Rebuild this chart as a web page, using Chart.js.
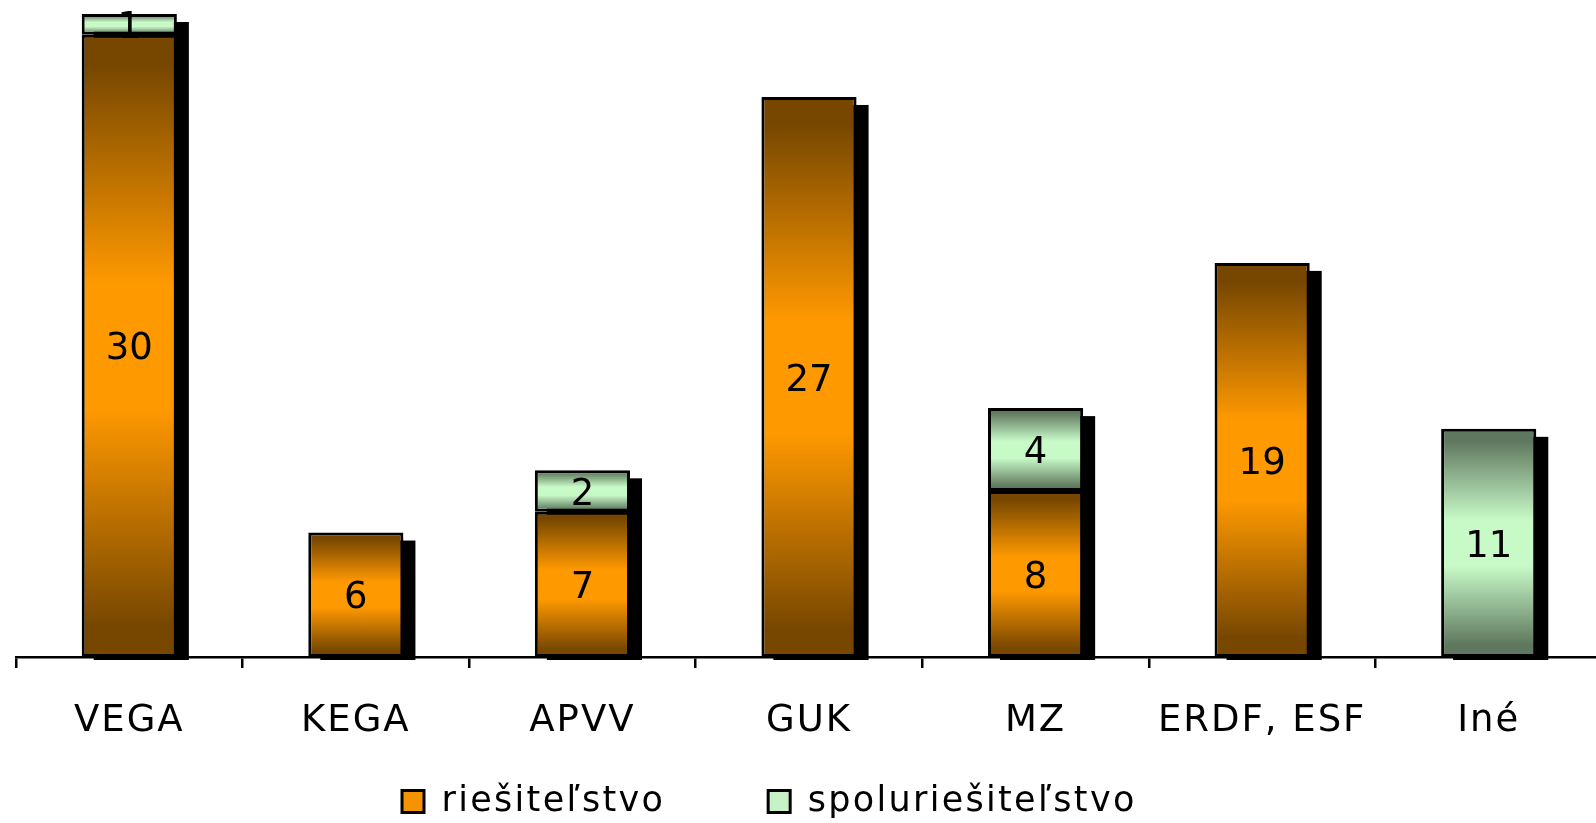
<!DOCTYPE html>
<html>
<head>
<meta charset="utf-8">
<script src="https://cdn.jsdelivr.net/npm/chart.js@4/dist/chart.umd.min.js"></script>
<style>
  html, body { margin: 0; padding: 0; background: #fff; overflow: hidden; }
  #wrap { width: 1602px; height: 823px; }
</style>
</head>
<body>
<div id="wrap"><canvas id="c" width="1602" height="823"></canvas></div>
<script>
const categories = ['VEGA', 'KEGA', 'APVV', 'GUK', 'MZ', 'ERDF, ESF', 'Iné'];
const riesitelstvo = [30, 6, 7, 27, 8, 19, 0];
const spoluriesitelstvo = [1, 0, 2, 0, 4, 0, 11];
const seriesNames = ['riešiteľstvo', 'spoluriešiteľstvo'];

const FONT = 'DejaVu Sans';
const TICK_SP = '2px';
const LEGEND_SP = '2.3px';
const ORANGE = ['#774700', '#ff9900'];
const GREEN = ['#5e775e', '#c8fac8'];

function segGradient(sctx, stops) {
  const chart = sctx.chart;
  if (sctx.type !== 'data' || !chart.scales || !chart.scales.y) return stops[1];
  const i = sctx.dataIndex, d = sctx.datasetIndex;
  let start = 0;
  for (let k = 0; k < d; k++) start += chart.data.datasets[k].data[i] || 0;
  const v = chart.data.datasets[d].data[i] || 0;
  const y = chart.scales.y;
  const yTop = y.getPixelForValue(start + v), yBot = y.getPixelForValue(start);
  if (!isFinite(yTop) || !isFinite(yBot) || yTop === yBot) return stops[1];
  const g = chart.ctx.createLinearGradient(0, yTop, 0, yBot);
  g.addColorStop(0, stops[0]);
  g.addColorStop(0.05, stops[0]);
  g.addColorStop(0.4, stops[1]);
  g.addColorStop(0.6, stops[1]);
  g.addColorStop(0.95, stops[0]);
  g.addColorStop(1, stops[0]);
  return g;
}

function withSpacing(ctx, sp, fn) {
  const prev = ctx.letterSpacing;
  ctx.letterSpacing = sp;
  try { return fn(); } finally { ctx.letterSpacing = prev; }
}

const spacingPlugin = {
  id: 'spacing',
  afterInit(chart) {
    const lg = chart.legend;
    if (lg) {
      const od = lg.draw, of = lg.fit;
      lg.draw = function (...a) { return withSpacing(chart.ctx, LEGEND_SP, () => od.apply(lg, a)); };
      lg.fit = function (...a) { return withSpacing(chart.ctx, LEGEND_SP, () => of.apply(lg, a)); };
    }
  },
  beforeUpdate(chart) { chart.ctx.letterSpacing = TICK_SP; },
  beforeLayout(chart) { chart.ctx.letterSpacing = TICK_SP; },
  beforeDraw(chart) { chart.ctx.letterSpacing = TICK_SP; }
};

const shadowPlugin = {
  id: 'shadow',
  beforeDatasetsDraw(chart) {
    const c = chart.ctx;
    const base = chart.scales.y.getPixelForValue(0);
    c.save();
    c.fillStyle = '#000';
    categories.forEach((_, i) => {
      let top = Infinity, x = null, w = null;
      chart.data.datasets.forEach((ds, d) => {
        const el = chart.getDatasetMeta(d).data[i];
        if (!el || !ds.data[i]) return;
        top = Math.min(top, el.y);
        x = el.x; w = el.width;
      });
      if (x === null) return;
      c.fillRect(x - w / 2 + 12, top + 8, w, base + 3 - top - 8);
    });
    c.restore();
  }
};

const labelPlugin = {
  id: 'segLabels',
  afterDatasetsDraw(chart) {
    const c = chart.ctx;
    c.save();
    c.letterSpacing = '0px';
    c.font = '37px "' + FONT + '"';
    c.fillStyle = '#000';
    c.textAlign = 'center';
    c.textBaseline = 'middle';
    chart.data.datasets.forEach((ds, d) => {
      chart.getDatasetMeta(d).data.forEach((el, i) => {
        const v = ds.data[i];
        if (!v) return;
        c.fillText(String(v), el.x, (el.y + el.base) / 2 + 4);
      });
    });
    c.restore();
  }
};

const layoutFix = {
  id: 'layoutFix',
  afterLayout(chart) {
    const lg = chart.legend;
    if (lg && lg.lineWidths) {
      const p = lg.options.labels.padding;
      const start = (lg.left + p + lg.right - lg.lineWidths[0]) / 2;
      const delta = 402 - start;
      lg.left += delta; lg.right += delta;
    }
    const x = chart.scales.x;
    if (x) x.bottom = chart.height;
  }
};

new Chart(document.getElementById('c'), {
  type: 'bar',
  data: {
    labels: categories,
    datasets: [
      {
        label: seriesNames[0],
        data: riesitelstvo.map(v => v || null),
        backgroundColor: (ctx) => segGradient(ctx, ORANGE),
        borderColor: '#000',
        borderWidth: 3,
        borderSkipped: false,
        barPercentage: 0.42,
        categoryPercentage: 1
      },
      {
        label: seriesNames[1],
        data: spoluriesitelstvo.map(v => v || null),
        backgroundColor: (ctx) => segGradient(ctx, GREEN),
        borderColor: '#000',
        borderWidth: 3,
        borderSkipped: false,
        barPercentage: 0.42,
        categoryPercentage: 1
      }
    ]
  },
  options: {
    responsive: false,
    animation: false,
    events: [],
    layout: { padding: { left: 16, right: 0, top: 14, bottom: 0 } },
    scales: {
      x: {
        stacked: true,
        offset: true,
        grid: { display: true, offset: true, drawOnChartArea: false, drawTicks: true, tickLength: 11, color: '#000', lineWidth: 2.5 },
        border: { display: true, color: '#000', width: 2.5 },
        ticks: { color: '#000', font: { family: FONT, size: 37 }, padding: 31, maxRotation: 0, autoSkip: false },
        afterFit(scale) { scale.height = 24; }
      },
      y: {
        stacked: true,
        display: false,
        min: 0,
        max: 31
      }
    },
    plugins: {
      legend: {
        position: 'bottom',
        maxHeight: 142,
        labels: {
          color: '#000',
          font: { family: FONT, size: 35 },
          boxWidth: 22,
          boxHeight: 22,
          padding: 103,
          generateLabels(chart) {
            return chart.data.datasets.map((ds, i) => ({
              text: ds.label,
              fillStyle: i === 0 ? '#f59300' : '#c6f2c6',
              strokeStyle: '#000',
              lineWidth: 3,
              fontColor: '#000',
              datasetIndex: i,
              hidden: false
            }));
          }
        }
      },
      tooltip: { enabled: false },
      title: { display: false }
    }
  },
  plugins: [spacingPlugin, shadowPlugin, labelPlugin, layoutFix]
});
</script>
</body>
</html>
